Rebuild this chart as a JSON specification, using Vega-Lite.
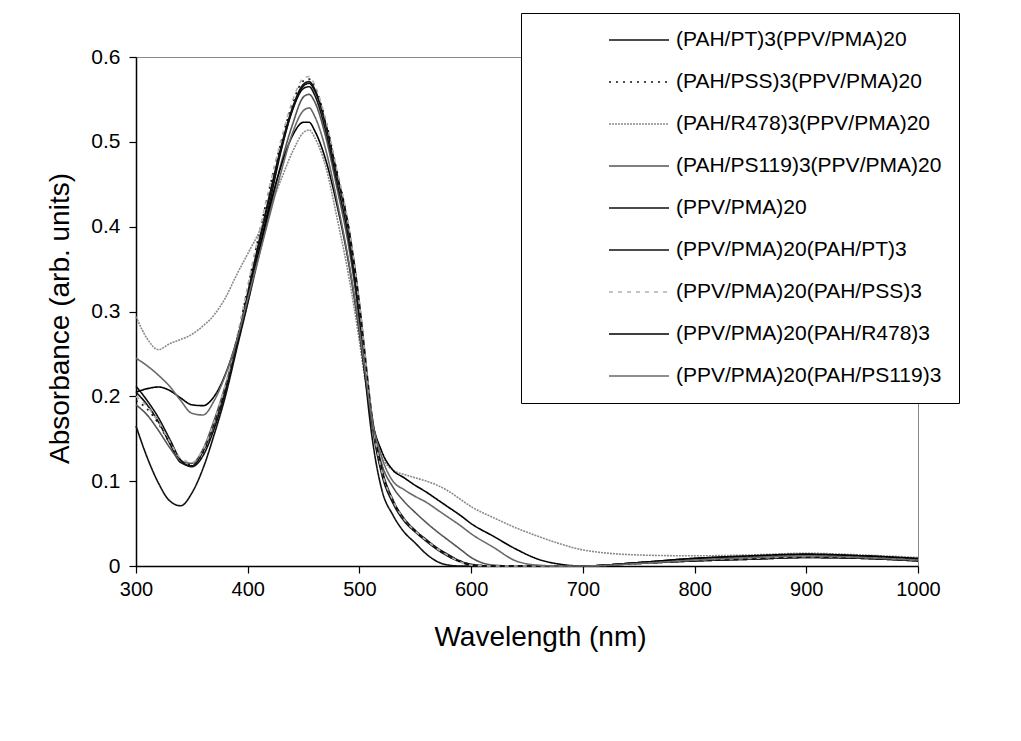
{
  "$schema": "https://vega.github.io/schema/vega-lite/v6.json",
  "width": 782,
  "height": 509,
  "autosize": {"type": "none"},
  "padding": {"left": 136, "top": 57, "right": 103, "bottom": 175},
  "background": "white",
  "config": {
    "font": "Liberation Sans",
    "view": {"stroke": "#888", "strokeWidth": 1},
    "axis": {"grid": false, "domainColor": "black", "domainWidth": 1.5, "tickColor": "black", "tickWidth": 1.2, "tickSize": 7, "labelColor": "black", "titleColor": "black", "labelFont": "Liberation Sans", "titleFont": "Liberation Sans", "titleFontWeight": "normal", "labelFlush": false}
  },
  "data": {"values": [
    {"s":"(PAH/PT)3(PPV/PMA)20","w":300,"a":0.205},{"s":"(PAH/PT)3(PPV/PMA)20","w":310,"a":0.19},{"s":"(PAH/PT)3(PPV/PMA)20","w":320,"a":0.17},{"s":"(PAH/PT)3(PPV/PMA)20","w":330,"a":0.145},{"s":"(PAH/PT)3(PPV/PMA)20","w":340,"a":0.122},{"s":"(PAH/PT)3(PPV/PMA)20","w":350,"a":0.118},{"s":"(PAH/PT)3(PPV/PMA)20","w":360,"a":0.135},{"s":"(PAH/PT)3(PPV/PMA)20","w":370,"a":0.168},{"s":"(PAH/PT)3(PPV/PMA)20","w":380,"a":0.21},{"s":"(PAH/PT)3(PPV/PMA)20","w":390,"a":0.262},{"s":"(PAH/PT)3(PPV/PMA)20","w":400,"a":0.322},{"s":"(PAH/PT)3(PPV/PMA)20","w":410,"a":0.382},{"s":"(PAH/PT)3(PPV/PMA)20","w":420,"a":0.44},{"s":"(PAH/PT)3(PPV/PMA)20","w":430,"a":0.495},{"s":"(PAH/PT)3(PPV/PMA)20","w":440,"a":0.54},{"s":"(PAH/PT)3(PPV/PMA)20","w":450,"a":0.568},{"s":"(PAH/PT)3(PPV/PMA)20","w":455,"a":0.571},{"s":"(PAH/PT)3(PPV/PMA)20","w":460,"a":0.562},{"s":"(PAH/PT)3(PPV/PMA)20","w":470,"a":0.52},{"s":"(PAH/PT)3(PPV/PMA)20","w":480,"a":0.46},{"s":"(PAH/PT)3(PPV/PMA)20","w":490,"a":0.398},{"s":"(PAH/PT)3(PPV/PMA)20","w":500,"a":0.3},{"s":"(PAH/PT)3(PPV/PMA)20","w":505,"a":0.24},{"s":"(PAH/PT)3(PPV/PMA)20","w":510,"a":0.18},{"s":"(PAH/PT)3(PPV/PMA)20","w":520,"a":0.108},{"s":"(PAH/PT)3(PPV/PMA)20","w":530,"a":0.074},{"s":"(PAH/PT)3(PPV/PMA)20","w":540,"a":0.053},{"s":"(PAH/PT)3(PPV/PMA)20","w":550,"a":0.04},{"s":"(PAH/PT)3(PPV/PMA)20","w":560,"a":0.029},{"s":"(PAH/PT)3(PPV/PMA)20","w":570,"a":0.019},{"s":"(PAH/PT)3(PPV/PMA)20","w":580,"a":0.011},{"s":"(PAH/PT)3(PPV/PMA)20","w":590,"a":0.005},{"s":"(PAH/PT)3(PPV/PMA)20","w":600,"a":0.001},{"s":"(PAH/PT)3(PPV/PMA)20","w":620,"a":0},{"s":"(PAH/PT)3(PPV/PMA)20","w":640,"a":0},{"s":"(PAH/PT)3(PPV/PMA)20","w":660,"a":0},{"s":"(PAH/PT)3(PPV/PMA)20","w":680,"a":0},{"s":"(PAH/PT)3(PPV/PMA)20","w":700,"a":0},{"s":"(PAH/PT)3(PPV/PMA)20","w":750,"a":0.003},{"s":"(PAH/PT)3(PPV/PMA)20","w":800,"a":0.006},{"s":"(PAH/PT)3(PPV/PMA)20","w":850,"a":0.008},{"s":"(PAH/PT)3(PPV/PMA)20","w":900,"a":0.01},{"s":"(PAH/PT)3(PPV/PMA)20","w":950,"a":0.009},{"s":"(PAH/PT)3(PPV/PMA)20","w":1000,"a":0.006},
    {"s":"(PAH/PSS)3(PPV/PMA)20","w":300,"a":0.195},{"s":"(PAH/PSS)3(PPV/PMA)20","w":310,"a":0.185},{"s":"(PAH/PSS)3(PPV/PMA)20","w":320,"a":0.168},{"s":"(PAH/PSS)3(PPV/PMA)20","w":330,"a":0.145},{"s":"(PAH/PSS)3(PPV/PMA)20","w":340,"a":0.124},{"s":"(PAH/PSS)3(PPV/PMA)20","w":350,"a":0.119},{"s":"(PAH/PSS)3(PPV/PMA)20","w":360,"a":0.133},{"s":"(PAH/PSS)3(PPV/PMA)20","w":370,"a":0.165},{"s":"(PAH/PSS)3(PPV/PMA)20","w":380,"a":0.21},{"s":"(PAH/PSS)3(PPV/PMA)20","w":390,"a":0.265},{"s":"(PAH/PSS)3(PPV/PMA)20","w":400,"a":0.328},{"s":"(PAH/PSS)3(PPV/PMA)20","w":410,"a":0.39},{"s":"(PAH/PSS)3(PPV/PMA)20","w":420,"a":0.448},{"s":"(PAH/PSS)3(PPV/PMA)20","w":430,"a":0.5},{"s":"(PAH/PSS)3(PPV/PMA)20","w":440,"a":0.545},{"s":"(PAH/PSS)3(PPV/PMA)20","w":450,"a":0.572},{"s":"(PAH/PSS)3(PPV/PMA)20","w":455,"a":0.574},{"s":"(PAH/PSS)3(PPV/PMA)20","w":460,"a":0.565},{"s":"(PAH/PSS)3(PPV/PMA)20","w":470,"a":0.524},{"s":"(PAH/PSS)3(PPV/PMA)20","w":480,"a":0.465},{"s":"(PAH/PSS)3(PPV/PMA)20","w":490,"a":0.402},{"s":"(PAH/PSS)3(PPV/PMA)20","w":500,"a":0.305},{"s":"(PAH/PSS)3(PPV/PMA)20","w":505,"a":0.245},{"s":"(PAH/PSS)3(PPV/PMA)20","w":510,"a":0.185},{"s":"(PAH/PSS)3(PPV/PMA)20","w":520,"a":0.11},{"s":"(PAH/PSS)3(PPV/PMA)20","w":530,"a":0.076},{"s":"(PAH/PSS)3(PPV/PMA)20","w":540,"a":0.055},{"s":"(PAH/PSS)3(PPV/PMA)20","w":550,"a":0.041},{"s":"(PAH/PSS)3(PPV/PMA)20","w":560,"a":0.03},{"s":"(PAH/PSS)3(PPV/PMA)20","w":570,"a":0.02},{"s":"(PAH/PSS)3(PPV/PMA)20","w":580,"a":0.012},{"s":"(PAH/PSS)3(PPV/PMA)20","w":590,"a":0.006},{"s":"(PAH/PSS)3(PPV/PMA)20","w":600,"a":0.002},{"s":"(PAH/PSS)3(PPV/PMA)20","w":620,"a":0},{"s":"(PAH/PSS)3(PPV/PMA)20","w":640,"a":0},{"s":"(PAH/PSS)3(PPV/PMA)20","w":660,"a":0},{"s":"(PAH/PSS)3(PPV/PMA)20","w":680,"a":0},{"s":"(PAH/PSS)3(PPV/PMA)20","w":700,"a":0},{"s":"(PAH/PSS)3(PPV/PMA)20","w":750,"a":0.004},{"s":"(PAH/PSS)3(PPV/PMA)20","w":800,"a":0.007},{"s":"(PAH/PSS)3(PPV/PMA)20","w":850,"a":0.009},{"s":"(PAH/PSS)3(PPV/PMA)20","w":900,"a":0.011},{"s":"(PAH/PSS)3(PPV/PMA)20","w":950,"a":0.01},{"s":"(PAH/PSS)3(PPV/PMA)20","w":1000,"a":0.007},
    {"s":"(PAH/R478)3(PPV/PMA)20","w":300,"a":0.294},{"s":"(PAH/R478)3(PPV/PMA)20","w":310,"a":0.268},{"s":"(PAH/R478)3(PPV/PMA)20","w":320,"a":0.255},{"s":"(PAH/R478)3(PPV/PMA)20","w":330,"a":0.262},{"s":"(PAH/R478)3(PPV/PMA)20","w":340,"a":0.267},{"s":"(PAH/R478)3(PPV/PMA)20","w":350,"a":0.273},{"s":"(PAH/R478)3(PPV/PMA)20","w":360,"a":0.283},{"s":"(PAH/R478)3(PPV/PMA)20","w":370,"a":0.296},{"s":"(PAH/R478)3(PPV/PMA)20","w":380,"a":0.316},{"s":"(PAH/R478)3(PPV/PMA)20","w":390,"a":0.343},{"s":"(PAH/R478)3(PPV/PMA)20","w":400,"a":0.368},{"s":"(PAH/R478)3(PPV/PMA)20","w":410,"a":0.393},{"s":"(PAH/R478)3(PPV/PMA)20","w":420,"a":0.423},{"s":"(PAH/R478)3(PPV/PMA)20","w":430,"a":0.456},{"s":"(PAH/R478)3(PPV/PMA)20","w":440,"a":0.488},{"s":"(PAH/R478)3(PPV/PMA)20","w":450,"a":0.511},{"s":"(PAH/R478)3(PPV/PMA)20","w":455,"a":0.514},{"s":"(PAH/R478)3(PPV/PMA)20","w":460,"a":0.505},{"s":"(PAH/R478)3(PPV/PMA)20","w":470,"a":0.47},{"s":"(PAH/R478)3(PPV/PMA)20","w":480,"a":0.41},{"s":"(PAH/R478)3(PPV/PMA)20","w":490,"a":0.345},{"s":"(PAH/R478)3(PPV/PMA)20","w":500,"a":0.265},{"s":"(PAH/R478)3(PPV/PMA)20","w":505,"a":0.22},{"s":"(PAH/R478)3(PPV/PMA)20","w":510,"a":0.18},{"s":"(PAH/R478)3(PPV/PMA)20","w":520,"a":0.13},{"s":"(PAH/R478)3(PPV/PMA)20","w":530,"a":0.113},{"s":"(PAH/R478)3(PPV/PMA)20","w":540,"a":0.108},{"s":"(PAH/R478)3(PPV/PMA)20","w":550,"a":0.104},{"s":"(PAH/R478)3(PPV/PMA)20","w":560,"a":0.1},{"s":"(PAH/R478)3(PPV/PMA)20","w":570,"a":0.095},{"s":"(PAH/R478)3(PPV/PMA)20","w":580,"a":0.088},{"s":"(PAH/R478)3(PPV/PMA)20","w":590,"a":0.079},{"s":"(PAH/R478)3(PPV/PMA)20","w":600,"a":0.07},{"s":"(PAH/R478)3(PPV/PMA)20","w":620,"a":0.057},{"s":"(PAH/R478)3(PPV/PMA)20","w":640,"a":0.045},{"s":"(PAH/R478)3(PPV/PMA)20","w":660,"a":0.035},{"s":"(PAH/R478)3(PPV/PMA)20","w":680,"a":0.026},{"s":"(PAH/R478)3(PPV/PMA)20","w":700,"a":0.019},{"s":"(PAH/R478)3(PPV/PMA)20","w":750,"a":0.013},{"s":"(PAH/R478)3(PPV/PMA)20","w":800,"a":0.012},{"s":"(PAH/R478)3(PPV/PMA)20","w":850,"a":0.013},{"s":"(PAH/R478)3(PPV/PMA)20","w":900,"a":0.015},{"s":"(PAH/R478)3(PPV/PMA)20","w":950,"a":0.013},{"s":"(PAH/R478)3(PPV/PMA)20","w":1000,"a":0.01},
    {"s":"(PAH/PS119)3(PPV/PMA)20","w":300,"a":0.19},{"s":"(PAH/PS119)3(PPV/PMA)20","w":310,"a":0.178},{"s":"(PAH/PS119)3(PPV/PMA)20","w":320,"a":0.16},{"s":"(PAH/PS119)3(PPV/PMA)20","w":330,"a":0.14},{"s":"(PAH/PS119)3(PPV/PMA)20","w":340,"a":0.124},{"s":"(PAH/PS119)3(PPV/PMA)20","w":350,"a":0.121},{"s":"(PAH/PS119)3(PPV/PMA)20","w":360,"a":0.138},{"s":"(PAH/PS119)3(PPV/PMA)20","w":370,"a":0.172},{"s":"(PAH/PS119)3(PPV/PMA)20","w":380,"a":0.213},{"s":"(PAH/PS119)3(PPV/PMA)20","w":390,"a":0.26},{"s":"(PAH/PS119)3(PPV/PMA)20","w":400,"a":0.31},{"s":"(PAH/PS119)3(PPV/PMA)20","w":410,"a":0.365},{"s":"(PAH/PS119)3(PPV/PMA)20","w":420,"a":0.42},{"s":"(PAH/PS119)3(PPV/PMA)20","w":430,"a":0.475},{"s":"(PAH/PS119)3(PPV/PMA)20","w":440,"a":0.52},{"s":"(PAH/PS119)3(PPV/PMA)20","w":450,"a":0.553},{"s":"(PAH/PS119)3(PPV/PMA)20","w":455,"a":0.556},{"s":"(PAH/PS119)3(PPV/PMA)20","w":460,"a":0.547},{"s":"(PAH/PS119)3(PPV/PMA)20","w":470,"a":0.505},{"s":"(PAH/PS119)3(PPV/PMA)20","w":480,"a":0.445},{"s":"(PAH/PS119)3(PPV/PMA)20","w":490,"a":0.38},{"s":"(PAH/PS119)3(PPV/PMA)20","w":500,"a":0.29},{"s":"(PAH/PS119)3(PPV/PMA)20","w":505,"a":0.235},{"s":"(PAH/PS119)3(PPV/PMA)20","w":510,"a":0.18},{"s":"(PAH/PS119)3(PPV/PMA)20","w":520,"a":0.12},{"s":"(PAH/PS119)3(PPV/PMA)20","w":530,"a":0.093},{"s":"(PAH/PS119)3(PPV/PMA)20","w":540,"a":0.076},{"s":"(PAH/PS119)3(PPV/PMA)20","w":550,"a":0.063},{"s":"(PAH/PS119)3(PPV/PMA)20","w":560,"a":0.051},{"s":"(PAH/PS119)3(PPV/PMA)20","w":570,"a":0.04},{"s":"(PAH/PS119)3(PPV/PMA)20","w":580,"a":0.03},{"s":"(PAH/PS119)3(PPV/PMA)20","w":590,"a":0.02},{"s":"(PAH/PS119)3(PPV/PMA)20","w":600,"a":0.01},{"s":"(PAH/PS119)3(PPV/PMA)20","w":620,"a":0.001},{"s":"(PAH/PS119)3(PPV/PMA)20","w":640,"a":0},{"s":"(PAH/PS119)3(PPV/PMA)20","w":660,"a":0},{"s":"(PAH/PS119)3(PPV/PMA)20","w":680,"a":0},{"s":"(PAH/PS119)3(PPV/PMA)20","w":700,"a":0},{"s":"(PAH/PS119)3(PPV/PMA)20","w":750,"a":0.004},{"s":"(PAH/PS119)3(PPV/PMA)20","w":800,"a":0.008},{"s":"(PAH/PS119)3(PPV/PMA)20","w":850,"a":0.01},{"s":"(PAH/PS119)3(PPV/PMA)20","w":900,"a":0.012},{"s":"(PAH/PS119)3(PPV/PMA)20","w":950,"a":0.011},{"s":"(PAH/PS119)3(PPV/PMA)20","w":1000,"a":0.008},
    {"s":"(PPV/PMA)20","w":300,"a":0.165},{"s":"(PPV/PMA)20","w":310,"a":0.128},{"s":"(PPV/PMA)20","w":320,"a":0.098},{"s":"(PPV/PMA)20","w":330,"a":0.077},{"s":"(PPV/PMA)20","w":340,"a":0.071},{"s":"(PPV/PMA)20","w":350,"a":0.086},{"s":"(PPV/PMA)20","w":360,"a":0.115},{"s":"(PPV/PMA)20","w":370,"a":0.155},{"s":"(PPV/PMA)20","w":380,"a":0.2},{"s":"(PPV/PMA)20","w":390,"a":0.255},{"s":"(PPV/PMA)20","w":400,"a":0.31},{"s":"(PPV/PMA)20","w":410,"a":0.37},{"s":"(PPV/PMA)20","w":420,"a":0.43},{"s":"(PPV/PMA)20","w":430,"a":0.49},{"s":"(PPV/PMA)20","w":440,"a":0.537},{"s":"(PPV/PMA)20","w":450,"a":0.563},{"s":"(PPV/PMA)20","w":455,"a":0.565},{"s":"(PPV/PMA)20","w":460,"a":0.555},{"s":"(PPV/PMA)20","w":470,"a":0.512},{"s":"(PPV/PMA)20","w":480,"a":0.452},{"s":"(PPV/PMA)20","w":490,"a":0.388},{"s":"(PPV/PMA)20","w":500,"a":0.29},{"s":"(PPV/PMA)20","w":505,"a":0.225},{"s":"(PPV/PMA)20","w":510,"a":0.165},{"s":"(PPV/PMA)20","w":520,"a":0.09},{"s":"(PPV/PMA)20","w":530,"a":0.06},{"s":"(PPV/PMA)20","w":540,"a":0.04},{"s":"(PPV/PMA)20","w":550,"a":0.027},{"s":"(PPV/PMA)20","w":560,"a":0.014},{"s":"(PPV/PMA)20","w":570,"a":0.005},{"s":"(PPV/PMA)20","w":580,"a":0.001},{"s":"(PPV/PMA)20","w":590,"a":0},{"s":"(PPV/PMA)20","w":600,"a":0},{"s":"(PPV/PMA)20","w":620,"a":0},{"s":"(PPV/PMA)20","w":640,"a":0},{"s":"(PPV/PMA)20","w":660,"a":0},{"s":"(PPV/PMA)20","w":680,"a":0},{"s":"(PPV/PMA)20","w":700,"a":0},{"s":"(PPV/PMA)20","w":750,"a":0.003},{"s":"(PPV/PMA)20","w":800,"a":0.006},{"s":"(PPV/PMA)20","w":850,"a":0.008},{"s":"(PPV/PMA)20","w":900,"a":0.01},{"s":"(PPV/PMA)20","w":950,"a":0.009},{"s":"(PPV/PMA)20","w":1000,"a":0.006},
    {"s":"(PPV/PMA)20(PAH/PT)3","w":300,"a":0.212},{"s":"(PPV/PMA)20(PAH/PT)3","w":310,"a":0.195},{"s":"(PPV/PMA)20(PAH/PT)3","w":320,"a":0.175},{"s":"(PPV/PMA)20(PAH/PT)3","w":330,"a":0.15},{"s":"(PPV/PMA)20(PAH/PT)3","w":340,"a":0.125},{"s":"(PPV/PMA)20(PAH/PT)3","w":350,"a":0.117},{"s":"(PPV/PMA)20(PAH/PT)3","w":360,"a":0.13},{"s":"(PPV/PMA)20(PAH/PT)3","w":370,"a":0.162},{"s":"(PPV/PMA)20(PAH/PT)3","w":380,"a":0.205},{"s":"(PPV/PMA)20(PAH/PT)3","w":390,"a":0.258},{"s":"(PPV/PMA)20(PAH/PT)3","w":400,"a":0.318},{"s":"(PPV/PMA)20(PAH/PT)3","w":410,"a":0.378},{"s":"(PPV/PMA)20(PAH/PT)3","w":420,"a":0.437},{"s":"(PPV/PMA)20(PAH/PT)3","w":430,"a":0.492},{"s":"(PPV/PMA)20(PAH/PT)3","w":440,"a":0.538},{"s":"(PPV/PMA)20(PAH/PT)3","w":450,"a":0.566},{"s":"(PPV/PMA)20(PAH/PT)3","w":455,"a":0.569},{"s":"(PPV/PMA)20(PAH/PT)3","w":460,"a":0.56},{"s":"(PPV/PMA)20(PAH/PT)3","w":470,"a":0.52},{"s":"(PPV/PMA)20(PAH/PT)3","w":480,"a":0.462},{"s":"(PPV/PMA)20(PAH/PT)3","w":490,"a":0.402},{"s":"(PPV/PMA)20(PAH/PT)3","w":500,"a":0.31},{"s":"(PPV/PMA)20(PAH/PT)3","w":505,"a":0.25},{"s":"(PPV/PMA)20(PAH/PT)3","w":510,"a":0.19},{"s":"(PPV/PMA)20(PAH/PT)3","w":520,"a":0.115},{"s":"(PPV/PMA)20(PAH/PT)3","w":530,"a":0.078},{"s":"(PPV/PMA)20(PAH/PT)3","w":540,"a":0.056},{"s":"(PPV/PMA)20(PAH/PT)3","w":550,"a":0.042},{"s":"(PPV/PMA)20(PAH/PT)3","w":560,"a":0.031},{"s":"(PPV/PMA)20(PAH/PT)3","w":570,"a":0.021},{"s":"(PPV/PMA)20(PAH/PT)3","w":580,"a":0.013},{"s":"(PPV/PMA)20(PAH/PT)3","w":590,"a":0.006},{"s":"(PPV/PMA)20(PAH/PT)3","w":600,"a":0.002},{"s":"(PPV/PMA)20(PAH/PT)3","w":620,"a":0},{"s":"(PPV/PMA)20(PAH/PT)3","w":640,"a":0},{"s":"(PPV/PMA)20(PAH/PT)3","w":660,"a":0},{"s":"(PPV/PMA)20(PAH/PT)3","w":680,"a":0},{"s":"(PPV/PMA)20(PAH/PT)3","w":700,"a":0},{"s":"(PPV/PMA)20(PAH/PT)3","w":750,"a":0.004},{"s":"(PPV/PMA)20(PAH/PT)3","w":800,"a":0.009},{"s":"(PPV/PMA)20(PAH/PT)3","w":850,"a":0.011},{"s":"(PPV/PMA)20(PAH/PT)3","w":900,"a":0.013},{"s":"(PPV/PMA)20(PAH/PT)3","w":950,"a":0.012},{"s":"(PPV/PMA)20(PAH/PT)3","w":1000,"a":0.008},
    {"s":"(PPV/PMA)20(PAH/PSS)3","w":300,"a":0.2},{"s":"(PPV/PMA)20(PAH/PSS)3","w":310,"a":0.188},{"s":"(PPV/PMA)20(PAH/PSS)3","w":320,"a":0.17},{"s":"(PPV/PMA)20(PAH/PSS)3","w":330,"a":0.147},{"s":"(PPV/PMA)20(PAH/PSS)3","w":340,"a":0.127},{"s":"(PPV/PMA)20(PAH/PSS)3","w":350,"a":0.122},{"s":"(PPV/PMA)20(PAH/PSS)3","w":360,"a":0.137},{"s":"(PPV/PMA)20(PAH/PSS)3","w":370,"a":0.17},{"s":"(PPV/PMA)20(PAH/PSS)3","w":380,"a":0.214},{"s":"(PPV/PMA)20(PAH/PSS)3","w":390,"a":0.268},{"s":"(PPV/PMA)20(PAH/PSS)3","w":400,"a":0.33},{"s":"(PPV/PMA)20(PAH/PSS)3","w":410,"a":0.392},{"s":"(PPV/PMA)20(PAH/PSS)3","w":420,"a":0.45},{"s":"(PPV/PMA)20(PAH/PSS)3","w":430,"a":0.503},{"s":"(PPV/PMA)20(PAH/PSS)3","w":440,"a":0.548},{"s":"(PPV/PMA)20(PAH/PSS)3","w":450,"a":0.575},{"s":"(PPV/PMA)20(PAH/PSS)3","w":455,"a":0.577},{"s":"(PPV/PMA)20(PAH/PSS)3","w":460,"a":0.567},{"s":"(PPV/PMA)20(PAH/PSS)3","w":470,"a":0.525},{"s":"(PPV/PMA)20(PAH/PSS)3","w":480,"a":0.466},{"s":"(PPV/PMA)20(PAH/PSS)3","w":490,"a":0.404},{"s":"(PPV/PMA)20(PAH/PSS)3","w":500,"a":0.308},{"s":"(PPV/PMA)20(PAH/PSS)3","w":505,"a":0.248},{"s":"(PPV/PMA)20(PAH/PSS)3","w":510,"a":0.187},{"s":"(PPV/PMA)20(PAH/PSS)3","w":520,"a":0.112},{"s":"(PPV/PMA)20(PAH/PSS)3","w":530,"a":0.077},{"s":"(PPV/PMA)20(PAH/PSS)3","w":540,"a":0.055},{"s":"(PPV/PMA)20(PAH/PSS)3","w":550,"a":0.041},{"s":"(PPV/PMA)20(PAH/PSS)3","w":560,"a":0.03},{"s":"(PPV/PMA)20(PAH/PSS)3","w":570,"a":0.02},{"s":"(PPV/PMA)20(PAH/PSS)3","w":580,"a":0.012},{"s":"(PPV/PMA)20(PAH/PSS)3","w":590,"a":0.005},{"s":"(PPV/PMA)20(PAH/PSS)3","w":600,"a":0.001},{"s":"(PPV/PMA)20(PAH/PSS)3","w":620,"a":0},{"s":"(PPV/PMA)20(PAH/PSS)3","w":640,"a":0},{"s":"(PPV/PMA)20(PAH/PSS)3","w":660,"a":0},{"s":"(PPV/PMA)20(PAH/PSS)3","w":680,"a":0},{"s":"(PPV/PMA)20(PAH/PSS)3","w":700,"a":0},{"s":"(PPV/PMA)20(PAH/PSS)3","w":750,"a":0.003},{"s":"(PPV/PMA)20(PAH/PSS)3","w":800,"a":0.007},{"s":"(PPV/PMA)20(PAH/PSS)3","w":850,"a":0.009},{"s":"(PPV/PMA)20(PAH/PSS)3","w":900,"a":0.011},{"s":"(PPV/PMA)20(PAH/PSS)3","w":950,"a":0.01},{"s":"(PPV/PMA)20(PAH/PSS)3","w":1000,"a":0.007},
    {"s":"(PPV/PMA)20(PAH/R478)3","w":300,"a":0.205},{"s":"(PPV/PMA)20(PAH/R478)3","w":310,"a":0.209},{"s":"(PPV/PMA)20(PAH/R478)3","w":320,"a":0.211},{"s":"(PPV/PMA)20(PAH/R478)3","w":330,"a":0.207},{"s":"(PPV/PMA)20(PAH/R478)3","w":340,"a":0.198},{"s":"(PPV/PMA)20(PAH/R478)3","w":350,"a":0.19},{"s":"(PPV/PMA)20(PAH/R478)3","w":360,"a":0.189},{"s":"(PPV/PMA)20(PAH/R478)3","w":370,"a":0.2},{"s":"(PPV/PMA)20(PAH/R478)3","w":380,"a":0.226},{"s":"(PPV/PMA)20(PAH/R478)3","w":390,"a":0.265},{"s":"(PPV/PMA)20(PAH/R478)3","w":400,"a":0.315},{"s":"(PPV/PMA)20(PAH/R478)3","w":410,"a":0.37},{"s":"(PPV/PMA)20(PAH/R478)3","w":420,"a":0.425},{"s":"(PPV/PMA)20(PAH/R478)3","w":430,"a":0.472},{"s":"(PPV/PMA)20(PAH/R478)3","w":440,"a":0.507},{"s":"(PPV/PMA)20(PAH/R478)3","w":450,"a":0.523},{"s":"(PPV/PMA)20(PAH/R478)3","w":455,"a":0.523},{"s":"(PPV/PMA)20(PAH/R478)3","w":460,"a":0.513},{"s":"(PPV/PMA)20(PAH/R478)3","w":470,"a":0.478},{"s":"(PPV/PMA)20(PAH/R478)3","w":480,"a":0.425},{"s":"(PPV/PMA)20(PAH/R478)3","w":490,"a":0.36},{"s":"(PPV/PMA)20(PAH/R478)3","w":500,"a":0.275},{"s":"(PPV/PMA)20(PAH/R478)3","w":505,"a":0.225},{"s":"(PPV/PMA)20(PAH/R478)3","w":510,"a":0.18},{"s":"(PPV/PMA)20(PAH/R478)3","w":520,"a":0.135},{"s":"(PPV/PMA)20(PAH/R478)3","w":530,"a":0.113},{"s":"(PPV/PMA)20(PAH/R478)3","w":540,"a":0.104},{"s":"(PPV/PMA)20(PAH/R478)3","w":550,"a":0.095},{"s":"(PPV/PMA)20(PAH/R478)3","w":560,"a":0.087},{"s":"(PPV/PMA)20(PAH/R478)3","w":570,"a":0.078},{"s":"(PPV/PMA)20(PAH/R478)3","w":580,"a":0.069},{"s":"(PPV/PMA)20(PAH/R478)3","w":590,"a":0.06},{"s":"(PPV/PMA)20(PAH/R478)3","w":600,"a":0.05},{"s":"(PPV/PMA)20(PAH/R478)3","w":620,"a":0.035},{"s":"(PPV/PMA)20(PAH/R478)3","w":640,"a":0.02},{"s":"(PPV/PMA)20(PAH/R478)3","w":660,"a":0.008},{"s":"(PPV/PMA)20(PAH/R478)3","w":680,"a":0.002},{"s":"(PPV/PMA)20(PAH/R478)3","w":700,"a":0},{"s":"(PPV/PMA)20(PAH/R478)3","w":750,"a":0.004},{"s":"(PPV/PMA)20(PAH/R478)3","w":800,"a":0.009},{"s":"(PPV/PMA)20(PAH/R478)3","w":850,"a":0.012},{"s":"(PPV/PMA)20(PAH/R478)3","w":900,"a":0.014},{"s":"(PPV/PMA)20(PAH/R478)3","w":950,"a":0.012},{"s":"(PPV/PMA)20(PAH/R478)3","w":1000,"a":0.009},
    {"s":"(PPV/PMA)20(PAH/PS119)3","w":300,"a":0.245},{"s":"(PPV/PMA)20(PAH/PS119)3","w":310,"a":0.236},{"s":"(PPV/PMA)20(PAH/PS119)3","w":320,"a":0.225},{"s":"(PPV/PMA)20(PAH/PS119)3","w":330,"a":0.212},{"s":"(PPV/PMA)20(PAH/PS119)3","w":340,"a":0.195},{"s":"(PPV/PMA)20(PAH/PS119)3","w":350,"a":0.18},{"s":"(PPV/PMA)20(PAH/PS119)3","w":360,"a":0.178},{"s":"(PPV/PMA)20(PAH/PS119)3","w":370,"a":0.195},{"s":"(PPV/PMA)20(PAH/PS119)3","w":380,"a":0.225},{"s":"(PPV/PMA)20(PAH/PS119)3","w":390,"a":0.265},{"s":"(PPV/PMA)20(PAH/PS119)3","w":400,"a":0.315},{"s":"(PPV/PMA)20(PAH/PS119)3","w":410,"a":0.365},{"s":"(PPV/PMA)20(PAH/PS119)3","w":420,"a":0.415},{"s":"(PPV/PMA)20(PAH/PS119)3","w":430,"a":0.465},{"s":"(PPV/PMA)20(PAH/PS119)3","w":440,"a":0.51},{"s":"(PPV/PMA)20(PAH/PS119)3","w":450,"a":0.537},{"s":"(PPV/PMA)20(PAH/PS119)3","w":455,"a":0.54},{"s":"(PPV/PMA)20(PAH/PS119)3","w":460,"a":0.53},{"s":"(PPV/PMA)20(PAH/PS119)3","w":470,"a":0.49},{"s":"(PPV/PMA)20(PAH/PS119)3","w":480,"a":0.43},{"s":"(PPV/PMA)20(PAH/PS119)3","w":490,"a":0.362},{"s":"(PPV/PMA)20(PAH/PS119)3","w":500,"a":0.278},{"s":"(PPV/PMA)20(PAH/PS119)3","w":505,"a":0.23},{"s":"(PPV/PMA)20(PAH/PS119)3","w":510,"a":0.182},{"s":"(PPV/PMA)20(PAH/PS119)3","w":520,"a":0.128},{"s":"(PPV/PMA)20(PAH/PS119)3","w":530,"a":0.1},{"s":"(PPV/PMA)20(PAH/PS119)3","w":540,"a":0.09},{"s":"(PPV/PMA)20(PAH/PS119)3","w":550,"a":0.082},{"s":"(PPV/PMA)20(PAH/PS119)3","w":560,"a":0.075},{"s":"(PPV/PMA)20(PAH/PS119)3","w":570,"a":0.066},{"s":"(PPV/PMA)20(PAH/PS119)3","w":580,"a":0.057},{"s":"(PPV/PMA)20(PAH/PS119)3","w":590,"a":0.048},{"s":"(PPV/PMA)20(PAH/PS119)3","w":600,"a":0.038},{"s":"(PPV/PMA)20(PAH/PS119)3","w":620,"a":0.022},{"s":"(PPV/PMA)20(PAH/PS119)3","w":640,"a":0.006},{"s":"(PPV/PMA)20(PAH/PS119)3","w":660,"a":0.001},{"s":"(PPV/PMA)20(PAH/PS119)3","w":680,"a":0},{"s":"(PPV/PMA)20(PAH/PS119)3","w":700,"a":0},{"s":"(PPV/PMA)20(PAH/PS119)3","w":750,"a":0.003},{"s":"(PPV/PMA)20(PAH/PS119)3","w":800,"a":0.007},{"s":"(PPV/PMA)20(PAH/PS119)3","w":850,"a":0.01},{"s":"(PPV/PMA)20(PAH/PS119)3","w":900,"a":0.012},{"s":"(PPV/PMA)20(PAH/PS119)3","w":950,"a":0.01},{"s":"(PPV/PMA)20(PAH/PS119)3","w":1000,"a":0.007}
  ]},
  "mark": {"type": "line", "interpolate": "monotone", "strokeJoin": "round"},
  "encoding": {
    "x": {"field": "w", "type": "quantitative",
      "scale": {"domain": [300, 1000], "nice": false, "zero": false},
      "axis": {"title": "Wavelength (nm)", "values": [300, 400, 500, 600, 700, 800, 900, 1000], "format": "d", "labelFontSize": 20, "labelPadding": 6, "titleFontSize": 28, "titleX": 404, "titleY": 79, "titleBaseline": "alphabetic"}},
    "y": {"field": "a", "type": "quantitative",
      "scale": {"domain": [0, 0.6], "nice": false},
      "axis": {"title": "Absorbance (arb. units)", "values": [0, 0.1, 0.2, 0.3, 0.4, 0.5, 0.6], "format": ".1~f", "labelFontSize": 21, "labelPadding": 9, "titleFontSize": 28, "titleX": -62, "titleY": 261, "titleBaseline": "bottom"}},
    "color": {"field": "s", "type": "nominal",
      "scale": {"domain": ["(PAH/PT)3(PPV/PMA)20", "(PAH/PSS)3(PPV/PMA)20", "(PAH/R478)3(PPV/PMA)20", "(PAH/PS119)3(PPV/PMA)20", "(PPV/PMA)20", "(PPV/PMA)20(PAH/PT)3", "(PPV/PMA)20(PAH/PSS)3", "(PPV/PMA)20(PAH/R478)3", "(PPV/PMA)20(PAH/PS119)3"],
        "range": ["#111111", "#111111", "#8a8a8a", "#555555", "#111111", "#111111", "#b0b0b0", "#000000", "#6a6a6a"]},
      "legend": {"orient": "none", "legendX": 385, "legendY": -44, "title": null, "strokeColor": "black", "fillColor": "white", "padding": 17, "symbolSize": 3600, "symbolType": "stroke", "clipHeight": 20, "rowPadding": 21, "symbolOffset": 70, "labelOffset": 6, "labelFontSize": 21, "labelColor": "black", "labelFont": "Liberation Sans", "labelLimit": 600, "labelExpr": "datum.label + '\u00a0\u00a0\u00a0\u00a0\u00a0\u00a0\u00a0\u00a0\u00a0\u00a0\u00a0\u00a0\u00a0\u00a0\u00a0\u00a0'"}},
    "strokeDash": {"field": "s", "type": "nominal",
      "scale": {"domain": ["(PAH/PT)3(PPV/PMA)20", "(PAH/PSS)3(PPV/PMA)20", "(PAH/R478)3(PPV/PMA)20", "(PAH/PS119)3(PPV/PMA)20", "(PPV/PMA)20", "(PPV/PMA)20(PAH/PT)3", "(PPV/PMA)20(PAH/PSS)3", "(PPV/PMA)20(PAH/R478)3", "(PPV/PMA)20(PAH/PS119)3"],
        "range": [[1, 0], [2, 5], [2, 1], [1, 0], [1, 0], [1, 0], [4, 5], [1, 0], [1, 0]]}},
    "strokeWidth": {"field": "s", "type": "nominal",
      "scale": {"domain": ["(PAH/PT)3(PPV/PMA)20", "(PAH/PSS)3(PPV/PMA)20", "(PAH/R478)3(PPV/PMA)20", "(PAH/PS119)3(PPV/PMA)20", "(PPV/PMA)20", "(PPV/PMA)20(PAH/PT)3", "(PPV/PMA)20(PAH/PSS)3", "(PPV/PMA)20(PAH/R478)3", "(PPV/PMA)20(PAH/PS119)3"],
        "range": [1.6, 1.6, 1.1, 1.1, 1.8, 2, 1.1, 2.6, 1.1]}}
  }
}
